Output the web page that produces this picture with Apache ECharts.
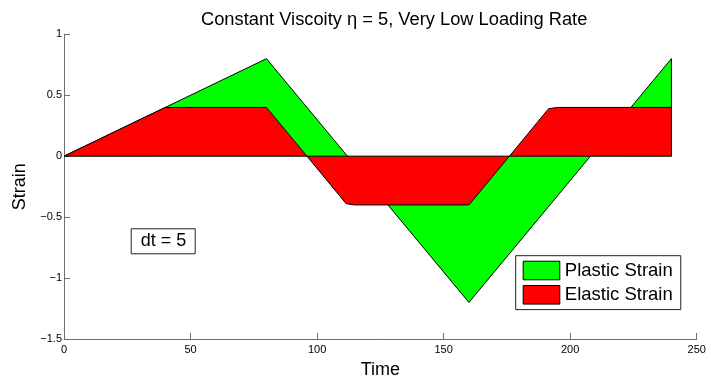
<!DOCTYPE html>
<html><head><meta charset="utf-8">
<script src="https://cdn.jsdelivr.net/npm/echarts@6/dist/echarts.min.js"></script>
<style>html,body{margin:0;padding:0;background:#fff}#c{width:711px;height:384px}</style>
</head><body><div id="c"></div>
<script>
const titleText = 'Constant Viscoity \u03b7 = 5, Very Low Loading Rate';
const xTicks = [0, 50, 100, 150, 200, 250];
const yTicks = [-1.5, -1, -0.5, 0, 0.5, 1];
const plasticTime = [0, 80, 160, 240, 240];
const plasticStrain = [0, 0.8, -1.2, 0.8, 0];
const elasticTime = [0, 40, 80, 96, 111.5, 115, 160, 176, 191.5, 195, 240, 240];
const elasticStrain = [0, 0.4, 0.4, 0, -0.39, -0.4, -0.4, 0, 0.39, 0.4, 0.4, 0];
const baseTime = [0, 240];
const baseStrain = [0, 0];
const seriesNames = ['Plastic Strain', 'Elastic Strain'];
const noteText = 'dt = 5';

const font = "'Liberation Sans', Arial, Helvetica, sans-serif";
const pair = (xs, ys) => xs.map((x, i) => [x, ys[i]]);
const axisGray = '#6e6e6e';

const chart = echarts.init(document.getElementById('c'));
chart.setOption({
  animation: false,
  backgroundColor: '#fff',
  textStyle: { fontFamily: font },
  title: [
    { text: titleText, left: 196, top: 6, textStyle: { fontFamily: font, fontSize: 18.3, fontWeight: 'normal', color: '#000' } },
    { text: noteText, left: 130.7, top: 228.3, borderColor: '#222', borderWidth: 1, padding: [4, 9, 4, 10],
      textStyle: { fontFamily: font, fontSize: 18, fontWeight: 'normal', color: '#000' } }
  ],
  grid: { left: 64, right: 14.3, top: 34.3, bottom: 41.7 },
  legend: {
    data: seriesNames, orient: 'vertical', left: 515.7, top: 255.7,
    icon: 'rect', itemWidth: 36.6, itemHeight: 18.6, itemGap: 4.7,
    padding: [5, 8, 5, 7], borderColor: '#222', borderWidth: 1, backgroundColor: '#fff',
    itemStyle: { borderColor: '#000', borderWidth: 1 },
    textStyle: { fontFamily: font, fontSize: 18.5, color: '#000', padding: [0, 0, 0, 0] }
  },
  xAxis: {
    type: 'value', min: xTicks[0], max: xTicks[xTicks.length - 1], interval: 50,
    name: 'Time', nameLocation: 'middle', nameGap: 22,
    nameTextStyle: { fontFamily: font, fontSize: 18, color: '#000' },
    axisLine: { show: true, onZero: false, lineStyle: { color: axisGray, width: 1 } },
    axisTick: { show: true, inside: true, length: 6, lineStyle: { color: axisGray } },
    axisLabel: { fontFamily: font, fontSize: 11, color: '#000', margin: 5 },
    splitLine: { show: false }
  },
  yAxis: {
    type: 'value', min: yTicks[0], max: yTicks[yTicks.length - 1], interval: 0.5,
    name: 'Strain', nameLocation: 'middle', nameGap: 32,
    nameTextStyle: { fontFamily: font, fontSize: 18, color: '#000' },
    axisLine: { show: true, onZero: false, lineStyle: { color: axisGray, width: 1 } },
    axisTick: { show: true, inside: true, length: 6, lineStyle: { color: axisGray } },
    axisLabel: { fontFamily: font, fontSize: 11, color: '#000', margin: 2,
      formatter: v => String(v).replace('-', '\u2212') },
    splitLine: { show: false }
  },
  series: [
    { name: seriesNames[0], type: 'line', data: pair(plasticTime, plasticStrain), symbol: 'none',
      itemStyle: { color: '#00ff00' }, lineStyle: { color: '#000', width: 1 },
      areaStyle: { color: '#00ff00', opacity: 1 }, z: 2 },
    { name: seriesNames[1], type: 'line', data: pair(elasticTime, elasticStrain), symbol: 'none',
      itemStyle: { color: '#ff0000' }, lineStyle: { color: '#000', width: 1 },
      areaStyle: { color: '#ff0000', opacity: 1 }, z: 3 },
    { name: 'base', type: 'line', data: pair(baseTime, baseStrain), symbol: 'none',
      lineStyle: { color: '#000', width: 1 }, z: 4, silent: true }
  ]
});
</script></body></html>
